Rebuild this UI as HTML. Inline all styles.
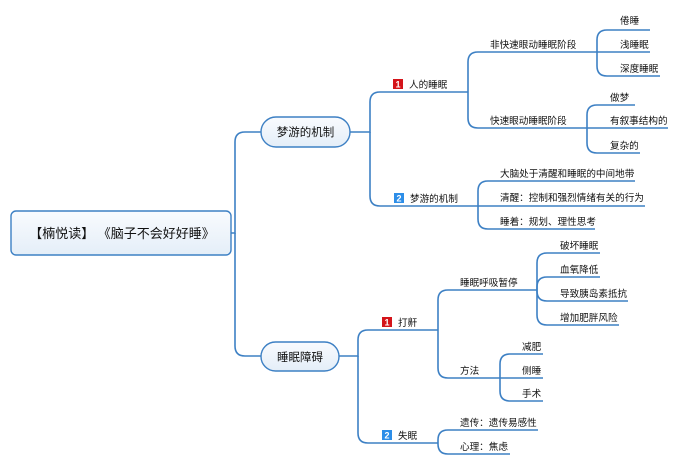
<!DOCTYPE html>
<html><head><meta charset="utf-8"><style>
html,body{margin:0;padding:0;background:#fff;width:680px;height:466px;overflow:hidden}
svg{display:block}
text{font-family:"Liberation Sans","Noto Sans CJK SC",sans-serif;fill:#111}
.l{fill:none;stroke:#3d80c4;stroke-width:1.6}
.s{font-size:9.6px}
</style></head><body>
<svg width="680" height="466" viewBox="0 0 680 466" xmlns="http://www.w3.org/2000/svg">
<defs><linearGradient id="g" x1="0" y1="0" x2="0" y2="1"><stop offset="0" stop-color="#f9fbfe"/><stop offset="1" stop-color="#e4eef8"/></linearGradient></defs>
<g class="l">
<path d="M231 233 H235 V142 Q235 132 245 132 H262"/>
<path d="M235 233 V346 Q235 356 245 356 H262"/>
<path d="M350 132 H370 V102 Q370 92 380 92 H468"/>
<path d="M370 132 V196 Q370 206 380 206 H470"/>
<path d="M468 92 V62 Q468 52 478 52 H597"/>
<path d="M468 92 V118 Q468 128 478 128 H587"/>
<path d="M597 52 V40 Q597 30 607 30 H650"/>
<path d="M597 52 H650"/>
<path d="M597 52 V66 Q597 76 607 76 H660"/>
<path d="M587 128 V115 Q587 105 597 105 H635"/>
<path d="M587 128 H668"/>
<path d="M587 128 V143 Q587 153 597 153 H640"/>
<path d="M470 206 H478 V191 Q478 181 488 181 H635"/>
<path d="M478 206 H645"/>
<path d="M478 206 V219 Q478 229 488 229 H595"/>
<path d="M339 356 H358 V340 Q358 330 368 330 H438"/>
<path d="M358 356 V433 Q358 443 368 443 H438"/>
<path d="M438 330 V300 Q438 290 448 290 H537"/>
<path d="M438 330 V368 Q438 378 448 378 H500"/>
<path d="M537 290 V263 Q537 253 547 253 H600"/>
<path d="M537 290 V287 Q537 277 547 277 H600"/>
<path d="M537 290 V291 Q537 301 547 301 H628"/>
<path d="M537 290 V315 Q537 325 547 325 H619"/>
<path d="M500 378 V364 Q500 354 510 354 H543"/>
<path d="M500 378 H543"/>
<path d="M500 378 V391 Q500 401 510 401 H543"/>
<path d="M438 443 V440 Q438 430 448 430 H538"/>
<path d="M438 443 V444 Q438 454 448 454 H510"/>
</g>
<rect x="11" y="211" width="220" height="44" rx="5" fill="url(#g)" stroke="#3d80c4" stroke-width="1.4"/>
<text x="122" y="238" font-size="13" text-anchor="middle">【楠悦读】 《脑子不会好好睡》</text>
<rect x="261" y="117" width="89" height="30" rx="15" fill="url(#g)" stroke="#3d80c4" stroke-width="1.4"/>
<text x="305.5" y="136" font-size="11.5" text-anchor="middle">梦游的机制</text>
<rect x="261" y="342" width="78" height="29" rx="14.5" fill="url(#g)" stroke="#3d80c4" stroke-width="1.4"/>
<text x="300" y="361" font-size="11.5" text-anchor="middle">睡眠障碍</text>
<rect x="393" y="79" width="10" height="10" fill="#d4141a"/><text x="398" y="87.5" font-size="9" style="fill:#fff;font-weight:bold" text-anchor="middle">1</text>
<text x="409" y="88" class="s">人的睡眠</text>
<rect x="394" y="193" width="10" height="10" fill="#2d8ee8"/><text x="399" y="201.5" style="fill:#fff;font-weight:bold" font-size="9" text-anchor="middle">2</text>
<text x="410" y="202" class="s">梦游的机制</text>
<rect x="382" y="317" width="10" height="10" fill="#d4141a"/><text x="387" y="325.5" style="fill:#fff;font-weight:bold" font-size="9" text-anchor="middle">1</text>
<text x="398" y="326" class="s">打鼾</text>
<rect x="382" y="430" width="10" height="10" fill="#2d8ee8"/><text x="387" y="438.5" style="fill:#fff;font-weight:bold" font-size="9" text-anchor="middle">2</text>
<text x="398" y="439" class="s">失眠</text>
<g class="s">
<text x="490" y="48">非快速眼动睡眠阶段</text>
<text x="490" y="124">快速眼动睡眠阶段</text>
<text x="620" y="24">倦睡</text>
<text x="620" y="48">浅睡眠</text>
<text x="620" y="72">深度睡眠</text>
<text x="610" y="101">做梦</text>
<text x="610" y="124">有叙事结构的</text>
<text x="610" y="149">复杂的</text>
<text x="500" y="177">大脑处于清醒和睡眠的中间地带</text>
<text x="500" y="201">清醒：控制和强烈情绪有关的行为</text>
<text x="500" y="225">睡着：规划、理性思考</text>
<text x="460" y="286">睡眠呼吸暂停</text>
<text x="460" y="374">方法</text>
<text x="560" y="249">破坏睡眠</text>
<text x="560" y="273">血氧降低</text>
<text x="560" y="297">导致胰岛素抵抗</text>
<text x="560" y="321">增加肥胖风险</text>
<text x="522" y="350">减肥</text>
<text x="522" y="374">侧睡</text>
<text x="522" y="397">手术</text>
<text x="460" y="426">遗传：遗传易感性</text>
<text x="460" y="450">心理：焦虑</text>
</g>
</svg>
</body></html>
